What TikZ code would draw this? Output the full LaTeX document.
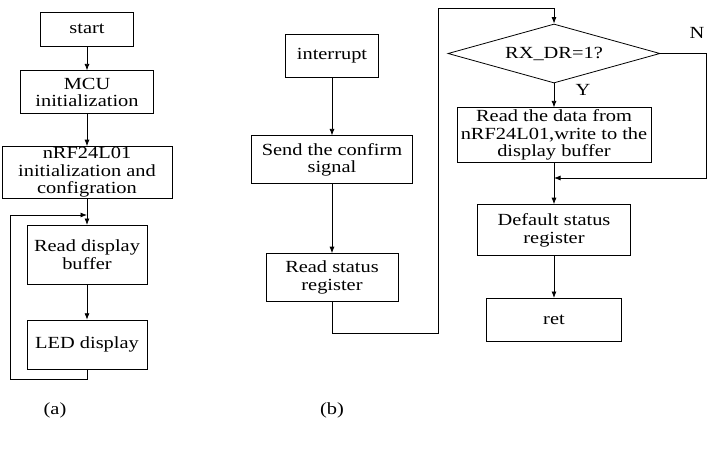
\documentclass[tikz,border=0pt]{standalone}
\usepackage{fontspec}
\setmainfont{Liberation Serif}[FakeStretch=1.2]
\usetikzlibrary{positioning}
\usetikzlibrary{arrows.meta}
\usetikzlibrary{shapes.geometric}

\begin{document}
\begin{tikzpicture}
    [x=1pt,y=-1pt,line width=0.8pt,>={Latex[length=6.5pt,width=5pt]},
     every node/.style={font=\fontsize{17}{17.5}\selectfont,align=center,inner sep=1pt}]

    \tikzstyle{box}      = [draw,rectangle]
    \tikzstyle{decision} = [draw,diamond,aspect=3.6,inner sep=0pt]
    \tikzstyle{plain}    = [draw=none]

    \useasboundingbox (0,0) rectangle (707,453);

    % (a) main loop
    \node [box,minimum width=93pt,minimum height=34pt] (start) at (87,29) {start} ;
    \node [box,minimum width=133pt,minimum height=43pt,below=24pt of start] (mcu) {MCU\\initialization} ;
    \node [box,minimum width=170pt,minimum height=52pt,below=32pt of mcu] (nrf) {nRF24L01\\initialization and\\configration} ;
    \node [box,minimum width=120pt,minimum height=59pt,below=26pt of nrf] (rdbuf) {Read display\\buffer} ;
    \node [box,minimum width=120pt,minimum height=49pt,below=35pt of rdbuf] (led) {LED display} ;

    \coordinate (ajoin) at (87,215) ;
    \coordinate (aleft) at (10,379) ;

    \draw [->] (start) -- (mcu) ;
    \draw [->] (mcu) -- (nrf) ;
    \draw [->] (nrf) -- (rdbuf) ;
    \draw [->] (rdbuf) -- (led) ;
    \draw [->] (led.south) |- (aleft) |- (ajoin) ;

    % (b) interrupt routine
    \node [box,minimum width=93pt,minimum height=43pt] (intr) at (332,55.5) {interrupt} ;
    \node [box,minimum width=161pt,minimum height=48pt,below=58pt of intr] (ack) {Send the confirm\\signal} ;
    \node [box,minimum width=132pt,minimum height=48pt,below=69pt of ack] (rdstat) {Read status\\register} ;

    \node [decision,minimum width=212pt,minimum height=59pt] (rxdr) at (554,53.5) {RX\_DR=1?} ;
    \node [box,minimum width=194pt,minimum height=55pt,below=24pt of rxdr] (rddata) {Read the data from\\nRF24L01,write to the\\display buffer} ;
    \node [box,minimum width=153pt,minimum height=51pt,below=41pt of rddata] (clr) {Default status\\register} ;
    \node [box,minimum width=135pt,minimum height=43pt,below=42pt of clr] (ret) {ret} ;

    \coordinate (bturn)  at (438,333) ;
    \coordinate (btop)   at (554,8) ;
    \coordinate (bright) at (706,178) ;
    \coordinate (bjoin)  at (554,178) ;

    \draw [->] (intr) -- (ack) ;
    \draw [->] (ack) -- (rdstat) ;
    \draw [->] (rdstat.south) |- (bturn) |- (btop) -- (rxdr.north) ;
    \draw [->] (rxdr) -- (rddata) ;
    \draw [->] (rddata) -- (clr) ;
    \draw [->] (clr) -- (ret) ;
    \draw [->] (rxdr.east) -| (bright) -- (bjoin) ;

    \node [plain] (nlab) at (697,33) {N} ;
    \node [plain] (ylab) at (583,90) {Y} ;
    \node [plain] (capa) at (55,410) {(a)} ;
    \node [plain] (capb) at (332,410) {(b)} ;
\end{tikzpicture}
\end{document}
